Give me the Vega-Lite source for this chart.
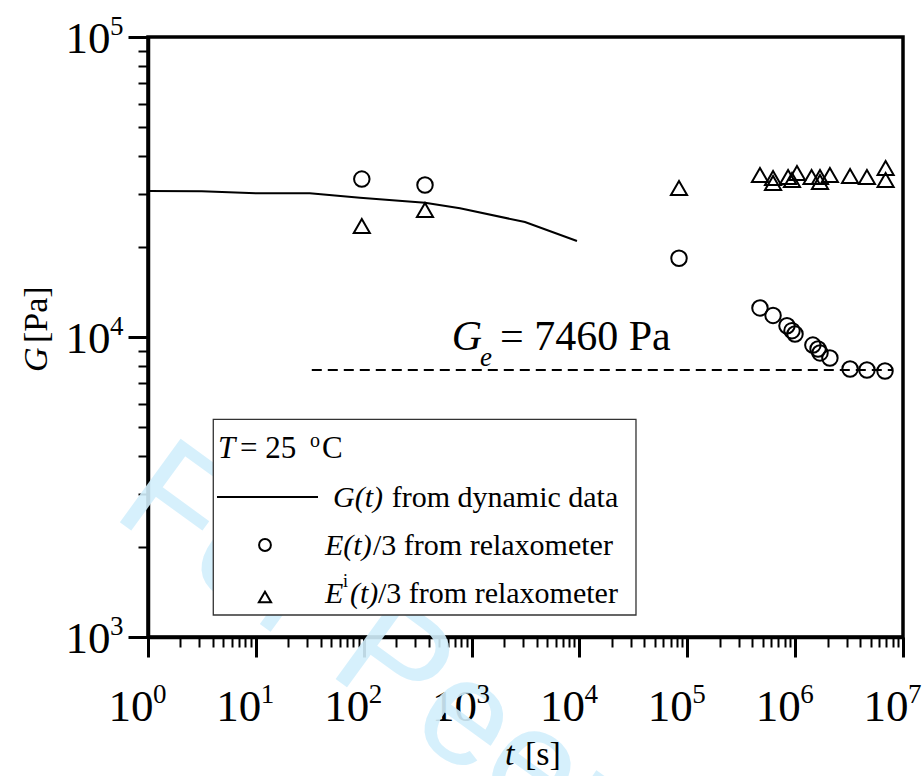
{
  "$schema": "https://vega.github.io/schema/vega-lite/v6.json",
  "width": 755,
  "height": 600,
  "autosize": {"type": "none"},
  "padding": {"left": 148, "top": 37, "right": 19, "bottom": 139},
  "background": "white",
  "config": {
    "font": "Liberation Serif",
    "text": {"font": "Liberation Serif"},
    "view": {"stroke": "black", "strokeWidth": 3.5}
  },
  "datasets": {
    "gt": [
      {"t": 1, "G": 30670},
      {"t": 3.15, "G": 30600},
      {"t": 10, "G": 30130},
      {"t": 31.6, "G": 30130},
      {"t": 92.4, "G": 29130},
      {"t": 370, "G": 28030},
      {"t": 781, "G": 26850},
      {"t": 3126, "G": 24170},
      {"t": 9490, "G": 20890}
    ],
    "et": [
      {"t": 96, "G": 33600},
      {"t": 370, "G": 32100},
      {"t": 83800, "G": 18300},
      {"t": 472000, "G": 12500},
      {"t": 624000, "G": 11800},
      {"t": 840000, "G": 10900},
      {"t": 935000, "G": 10500},
      {"t": 997000, "G": 10230},
      {"t": 1460000, "G": 9400},
      {"t": 1630000, "G": 9120},
      {"t": 1700000, "G": 8850},
      {"t": 2100000, "G": 8510},
      {"t": 3230000, "G": 7820},
      {"t": 4630000, "G": 7760},
      {"t": 6810000, "G": 7700}
    ],
    "eit": [
      {"t": 96, "G": 23440},
      {"t": 370, "G": 26500},
      {"t": 83800, "G": 31400},
      {"t": 472000, "G": 34670},
      {"t": 624000, "G": 33900},
      {"t": 624000, "G": 32600},
      {"t": 860000, "G": 34150},
      {"t": 935000, "G": 33350},
      {"t": 1040000, "G": 35200},
      {"t": 1420000, "G": 34150},
      {"t": 1700000, "G": 34150},
      {"t": 1700000, "G": 32850},
      {"t": 2100000, "G": 34670},
      {"t": 3230000, "G": 34400},
      {"t": 4630000, "G": 34150},
      {"t": 6900000, "G": 36600},
      {"t": 6900000, "G": 33350}
    ],
    "ge": [
      {"t": 33, "G": 7760},
      {"t": 8000000, "G": 7760}
    ],
    "xexp": [
      {"t": 1, "e": "0"},
      {"t": 10, "e": "1"},
      {"t": 100, "e": "2"},
      {"t": 1000, "e": "3"},
      {"t": 10000, "e": "4"},
      {"t": 100000, "e": "5"},
      {"t": 1000000, "e": "6"},
      {"t": 10000000, "e": "7"}
    ],
    "yexp": [
      {"G": 1000, "e": "3"},
      {"G": 10000, "e": "4"},
      {"G": 100000, "e": "5"}
    ],
    "one": [{}]
  },
  "layer": [
    {
      "data": {"name": "one"},
      "mark": {"type": "text", "text": "For Peer Review", "font": "Liberation Sans", "fontSize": 150, "angle": 36, "align": "left", "baseline": "alphabetic", "fill": "#d2effc", "opacity": 0.9},
      "encoding": {"x": {"datum": 0.444}, "y": {"datum": 2551}}
    },
    {
      "data": {"name": "gt"},
      "mark": {"type": "line", "color": "black", "strokeWidth": 2},
      "encoding": {
        "x": {
          "field": "t", "type": "quantitative",
          "scale": {"type": "log", "domain": [1, 10000000], "nice": false},
          "axis": {
            "title": null,
            "grid": false,
            "values": [1,2,3,4,5,6,7,8,9,10,20,30,40,50,60,70,80,90,100,200,300,400,500,600,700,800,900,1000,2000,3000,4000,5000,6000,7000,8000,9000,10000,20000,30000,40000,50000,60000,70000,80000,90000,100000,200000,300000,400000,500000,600000,700000,800000,900000,1000000,2000000,3000000,4000000,5000000,6000000,7000000,8000000,9000000,10000000],
            "labelExpr": "abs(log(datum.value)/LN10 - round(log(datum.value)/LN10)) < 0.001 ? '10' : ''",
            "domainColor": "black", "domainWidth": 3.5,
            "tickColor": "black",
            "tickSize": {"condition": {"test": "abs(log(datum.value)/LN10 - round(log(datum.value)/LN10)) < 0.001", "value": 20}, "value": 10},
            "tickWidth": {"condition": {"test": "abs(log(datum.value)/LN10 - round(log(datum.value)/LN10)) < 0.001", "value": 3}, "value": 2},
            "labelFont": "Liberation Serif", "labelFontSize": 45, "labelColor": "black",
            "labelAlign": "right", "labelBaseline": "alphabetic", "labelPadding": 63, "labelOffset": 5,
            "labelFlush": false, "labelOverlap": false, "labelBound": false
          }
        },
        "y": {
          "field": "G", "type": "quantitative",
          "scale": {"type": "log", "domain": [1000, 100000], "nice": false},
          "axis": {
            "title": null,
            "grid": false,
            "values": [1000,2000,3000,4000,5000,6000,7000,8000,9000,10000,20000,30000,40000,50000,60000,70000,80000,90000,100000],
            "labelExpr": "abs(log(datum.value)/LN10 - round(log(datum.value)/LN10)) < 0.001 ? '10' : ''",
            "domainColor": "black", "domainWidth": 3.5,
            "tickColor": "black",
            "tickSize": {"condition": {"test": "abs(log(datum.value)/LN10 - round(log(datum.value)/LN10)) < 0.001", "value": 20}, "value": 10},
            "tickWidth": {"condition": {"test": "abs(log(datum.value)/LN10 - round(log(datum.value)/LN10)) < 0.001", "value": 3}, "value": 2},
            "labelFont": "Liberation Serif", "labelFontSize": 45, "labelColor": "black",
            "labelAlign": "right", "labelBaseline": "alphabetic", "labelPadding": 18, "labelOffset": 15,
            "labelFlush": false, "labelOverlap": false, "labelBound": false
          }
        }
      }
    },
    {
      "data": {"name": "xexp"},
      "mark": {"type": "text", "font": "Liberation Serif", "fontSize": 27, "align": "left", "baseline": "alphabetic", "dx": 5, "dy": 66, "color": "black"},
      "encoding": {
        "x": {"field": "t", "type": "quantitative"},
        "y": {"datum": 1000},
        "text": {"field": "e"}
      }
    },
    {
      "data": {"name": "yexp"},
      "mark": {"type": "text", "font": "Liberation Serif", "fontSize": 27, "align": "left", "baseline": "alphabetic", "dx": -38, "dy": -2, "color": "black"},
      "encoding": {
        "x": {"datum": 1},
        "y": {"field": "G", "type": "quantitative"},
        "text": {"field": "e"}
      }
    },
    {
      "data": {"name": "ge"},
      "mark": {"type": "line", "color": "black", "strokeWidth": 2, "strokeDash": [10, 6]},
      "encoding": {
        "x": {"field": "t", "type": "quantitative"},
        "y": {"field": "G", "type": "quantitative"}
      }
    },
    {
      "data": {"name": "et"},
      "mark": {"type": "point", "shape": "circle", "filled": false, "color": "black", "strokeWidth": 2, "size": 240, "opacity": 1},
      "encoding": {
        "x": {"field": "t", "type": "quantitative"},
        "y": {"field": "G", "type": "quantitative"}
      }
    },
    {
      "data": {"name": "eit"},
      "mark": {"type": "point", "shape": "triangle-up", "filled": false, "color": "black", "strokeWidth": 2, "size": 260, "opacity": 1},
      "encoding": {
        "x": {"field": "t", "type": "quantitative"},
        "y": {"field": "G", "type": "quantitative"}
      }
    },
    {
      "data": {"name": "one"},
      "mark": {"type": "rect", "fill": "white", "fillOpacity": 1, "stroke": "#333333", "strokeWidth": 1.3},
      "encoding": {"x": {"datum": 4.03}, "x2": {"datum": 33450}, "y": {"datum": 5318}, "y2": {"datum": 1184}}
    },
    {
      "data": {"name": "one"},
      "mark": {"type": "rule", "color": "black", "strokeWidth": 2},
      "encoding": {"x": {"datum": 4.362}, "x2": {"datum": 37.69}, "y": {"datum": 2929}}
    },
    {
      "data": {"name": "one"},
      "mark": {"type": "point", "shape": "circle", "filled": false, "color": "black", "strokeWidth": 2, "size": 140, "opacity": 1},
      "encoding": {"x": {"datum": 12.15}, "y": {"datum": 2026}}
    },
    {
      "data": {"name": "one"},
      "mark": {"type": "point", "shape": "triangle-up", "filled": false, "color": "black", "strokeWidth": 2, "size": 150, "opacity": 1},
      "encoding": {"x": {"datum": 12.15}, "y": {"datum": 1359}}
    },
    {
      "data": {"name": "one"},
      "mark": {"type": "text", "text": "T", "font": "Liberation Serif", "fontStyle": "italic", "fontSize": 31, "align": "left", "baseline": "alphabetic", "color": "black"},
      "encoding": {"x": {"datum": 4.457}, "y": {"datum": 3951}}
    },
    {
      "data": {"name": "one"},
      "mark": {"type": "text", "text": "= 25", "font": "Liberation Serif", "fontSize": 31, "align": "left", "baseline": "alphabetic", "color": "black"},
      "encoding": {"x": {"datum": 7.13}, "y": {"datum": 3951}}
    },
    {
      "data": {"name": "one"},
      "mark": {"type": "text", "text": "o", "font": "Liberation Serif", "fontSize": 20, "align": "left", "baseline": "alphabetic", "color": "black"},
      "encoding": {"x": {"datum": 31.77}, "y": {"datum": 4298}}
    },
    {
      "data": {"name": "one"},
      "mark": {"type": "text", "text": "C", "font": "Liberation Serif", "fontSize": 31, "align": "left", "baseline": "alphabetic", "color": "black"},
      "encoding": {"x": {"datum": 41.05}, "y": {"datum": 3951}}
    },
    {
      "data": {"name": "one"},
      "mark": {"type": "text", "text": "G(t)", "font": "Liberation Serif", "fontStyle": "italic", "fontSize": 30, "align": "left", "baseline": "alphabetic", "color": "black"},
      "encoding": {"x": {"datum": 51.91}, "y": {"datum": 2719}}
    },
    {
      "data": {"name": "one"},
      "mark": {"type": "text", "text": "from dynamic data", "font": "Liberation Serif", "fontSize": 30, "align": "left", "baseline": "alphabetic", "color": "black"},
      "encoding": {"x": {"datum": 181.7}, "y": {"datum": 2719}}
    },
    {
      "data": {"name": "one"},
      "mark": {"type": "text", "text": "E(t)", "font": "Liberation Serif", "fontStyle": "italic", "fontSize": 30, "align": "left", "baseline": "alphabetic", "color": "black"},
      "encoding": {"x": {"datum": 43.75}, "y": {"datum": 1876}}
    },
    {
      "data": {"name": "one"},
      "mark": {"type": "text", "text": "/3 from relaxometer", "font": "Liberation Serif", "fontSize": 30, "align": "left", "baseline": "alphabetic", "color": "black"},
      "encoding": {"x": {"datum": 121.9}, "y": {"datum": 1876}}
    },
    {
      "data": {"name": "one"},
      "mark": {"type": "text", "text": "E", "font": "Liberation Serif", "fontStyle": "italic", "fontSize": 30, "align": "left", "baseline": "alphabetic", "color": "black"},
      "encoding": {"x": {"datum": 43.75}, "y": {"datum": 1299}}
    },
    {
      "data": {"name": "one"},
      "mark": {"type": "text", "text": "i", "font": "Liberation Serif", "fontSize": 18, "align": "left", "baseline": "alphabetic", "color": "black"},
      "encoding": {"x": {"datum": 64.27}, "y": {"datum": 1468}}
    },
    {
      "data": {"name": "one"},
      "mark": {"type": "text", "text": "(t)", "font": "Liberation Serif", "fontStyle": "italic", "fontSize": 30, "align": "left", "baseline": "alphabetic", "color": "black"},
      "encoding": {"x": {"datum": 74.6}, "y": {"datum": 1299}}
    },
    {
      "data": {"name": "one"},
      "mark": {"type": "text", "text": "/3 from relaxometer", "font": "Liberation Serif", "fontSize": 30, "align": "left", "baseline": "alphabetic", "color": "black"},
      "encoding": {"x": {"datum": 135.7}, "y": {"datum": 1299}}
    },
    {
      "data": {"name": "one"},
      "mark": {"type": "text", "text": "G", "font": "Liberation Serif", "fontStyle": "italic", "fontSize": 42, "align": "left", "baseline": "alphabetic", "color": "black"},
      "encoding": {"x": {"datum": 654}, "y": {"datum": 9050}}
    },
    {
      "data": {"name": "one"},
      "mark": {"type": "text", "text": "e", "font": "Liberation Serif", "fontStyle": "italic", "fontSize": 27, "align": "left", "baseline": "alphabetic", "color": "black"},
      "encoding": {"x": {"datum": 1197}, "y": {"datum": 8002}}
    },
    {
      "data": {"name": "one"},
      "mark": {"type": "text", "text": "= 7460 Pa", "font": "Liberation Serif", "fontSize": 42, "align": "left", "baseline": "alphabetic", "color": "black"},
      "encoding": {"x": {"datum": 1834}, "y": {"datum": 9050}}
    },
    {
      "data": {"name": "one"},
      "mark": {"type": "text", "text": "t", "font": "Liberation Serif", "fontStyle": "italic", "fontSize": 34, "align": "left", "baseline": "alphabetic", "color": "black"},
      "encoding": {"x": {"datum": 2042}, "y": {"datum": 374.5}}
    },
    {
      "data": {"name": "one"},
      "mark": {"type": "text", "text": "[s]", "font": "Liberation Serif", "fontSize": 34, "align": "left", "baseline": "alphabetic", "color": "black"},
      "encoding": {"x": {"datum": 3128}, "y": {"datum": 374.5}}
    },
    {
      "data": {"name": "one"},
      "mark": {"type": "text", "text": "G", "font": "Liberation Serif", "fontStyle": "italic", "fontSize": 34, "align": "left", "baseline": "alphabetic", "angle": 270, "color": "black"},
      "encoding": {"x": {"datum": 0.1158}, "y": {"datum": 7646}}
    },
    {
      "data": {"name": "one"},
      "mark": {"type": "text", "text": "[Pa]", "font": "Liberation Serif", "fontSize": 34, "align": "left", "baseline": "alphabetic", "angle": 270, "color": "black"},
      "encoding": {"x": {"datum": 0.1158}, "y": {"datum": 9550}}
    }
  ]
}
